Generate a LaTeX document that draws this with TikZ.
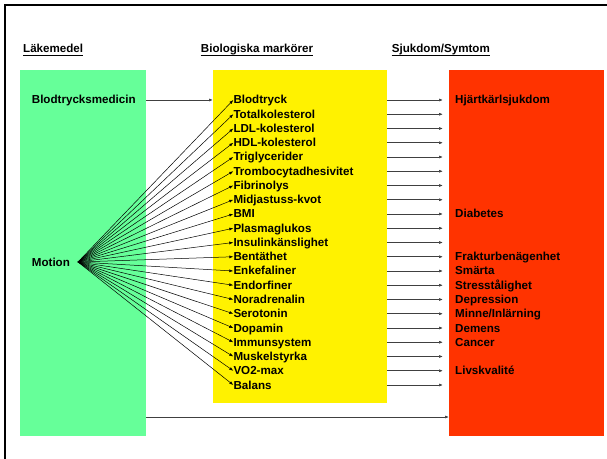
\documentclass[tikz,border=0pt]{standalone}
\usepackage{fontspec}
\setmainfont{Liberation Sans}
\usetikzlibrary{arrows.meta}

\definecolor{lakgreen}{RGB}{102,255,153}
\definecolor{sjukred}{RGB}{255,51,0}

\tikzset{
	box/.style={draw=none, inner sep=0pt, anchor=north west},
	txt/.style={inner sep=0pt, anchor=west, text height=8bp, text depth=0pt},
	head/.style={inner sep=0pt, anchor=base west},
	arr/.style={-{Latex[length=4bp,width=3bp]}, line width=0.5bp},
	arrg/.style={arr, line width=0.7bp, black!75}
}

\begin{document}
\begin{tikzpicture}[x=1bp, y=-1bp, font=\bfseries\fontsize{11.6bp}{14bp}\selectfont]
			\useasboundingbox (0,0) rectangle (607,459);
			\draw[line width=2bp] (5,459) -- (5,5) -- (607,5);
			% the three columns
			\node[box, fill=lakgreen, minimum width=126bp, minimum height=366bp] (lak) at (20,70) {};
			\node[box, fill=yellow, minimum width=174bp, minimum height=333bp] (bio) at (213,70) {};
			\node[box, fill=sjukred, minimum width=155bp, minimum height=366bp] (sjuk) at (449,70) {};
			% headings
			\node[head] (h1) at (23,53) {Läkemedel};
			\node[head] (h2) at (200.7,53) {Biologiska markörer};
			\node[head] (h3) at (391.7,53) {Sjukdom/Symtom};
			\foreach \h in {h1,h2,h3}
				\draw[line width=1.3bp] ([yshift=-2.6bp]\h.base west) -- ([yshift=-2.6bp]\h.base east);
			% Läkemedel
			\node[txt] (med) at (31.7,100) {Blodtrycksmedicin};
			\node[txt] (mot) at (31.7,263) {Motion};
			\coordinate (apex) at (78,262);
			% markörer
			\foreach \t [count=\i] in {Blodtryck, Totalkolesterol, LDL-kolesterol, HDL-kolesterol,
				Triglycerider, Trombocytadhesivitet, Fibrinolys, Midjastuss-kvot, BMI, Plasmaglukos,
				Insulinkänslighet, Bentäthet, Enkefaliner, Endorfiner, Noradrenalin, Serotonin,
				Dopamin, Immunsystem, Muskelstyrka, VO2-max, Balans}{
				\node[txt] (b\i) at (233.3,{100+(\i-1)*14.25}) {\t};
				\draw[arr] (apex) -- (b\i.west);
				\draw[arrg] (bio.east |- b\i.west) -- ([xshift=-6bp]sjuk.west |- b\i.west);
			}
			% sjukdomar
			\foreach \r/\t in {1/Hjärtkärlsjukdom, 9/Diabetes, 12/Frakturbenägenhet, 13/Smärta,
				14/Stresstålighet, 15/Depression, 16/{Minne/Inlärning}, 17/Demens, 18/Cancer, 20/Livskvalité}
				\node[txt] (s\r) at (455,{100+(\r-1)*14.25}) {\t};
			\draw[arrg] (lak.east |- med.west) -- (bio.west |- med.west);
			\coordinate (bot) at (0,417);
			\draw[arrg] (lak.east |- bot) -- (sjuk.west |- bot);
\end{tikzpicture}
\end{document}
